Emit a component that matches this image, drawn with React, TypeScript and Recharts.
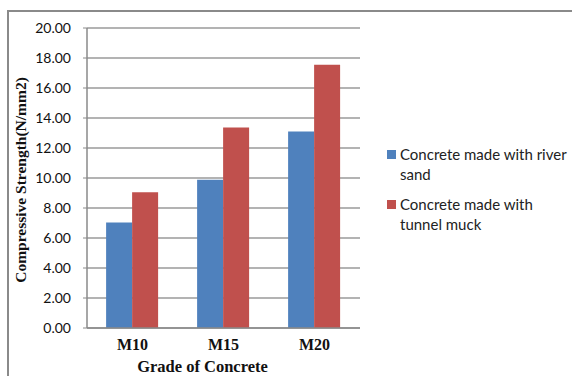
import React from "react";
import { BarChart, Bar, XAxis, YAxis, CartesianGrid } from "recharts";

const grades = ["M10", "M15", "M20"];
const riverSand = [7.03, 9.88, 13.1];
const tunnelMuck = [9.05, 13.37, 17.55];
const yTicks = [0, 2, 4, 6, 8, 10, 12, 14, 16, 18, 20];

const BLUE = "#4F81BD";
const RED = "#C0504D";
const SANS = "Lato, 'Open Sans', sans-serif";
const SERIF = "'Liberation Serif', 'Times New Roman', serif";

const data = grades.map((g, i) => ({ grade: g, river: riverSand[i], muck: tunnelMuck[i] }));

const legendItems = [
  { lines: ["Concrete made with river", "sand"], color: BLUE },
  { lines: ["Concrete made with", "tunnel muck"], color: RED },
];

// legend sits to the right of the plot, outside the svg
function LegendBox() {
  return (
    <div
      style={{
        position: "absolute",
        left: 387,
        top: 144,
        width: 185,
        fontFamily: SANS,
        fontSize: 15,
        color: "#222",
        lineHeight: "20px",
      }}
    >
      {legendItems.map((it) => (
        <div key={it.lines[0]} style={{ display: "flex", alignItems: "flex-start", marginBottom: 10 }}>
          <span style={{ width: 9, height: 9, background: it.color, marginTop: 6, marginRight: 4, flexShrink: 0 }} />
          <span>
            {it.lines.map((l) => (
              <div key={l} style={{ whiteSpace: "nowrap" }}>{l}</div>
            ))}
          </span>
        </div>
      ))}
    </div>
  );
}

const YTitle = (props: any) => {
  const { viewBox } = props;
  const cx = 20;
  const cy = viewBox.y + viewBox.height / 2 + 2;
  return (
    <text
      x={cx}
      y={cy}
      transform={`rotate(-90 ${cx} ${cy})`}
      textAnchor="middle"
      dominantBaseline="central"
      fontFamily={SERIF}
      fontWeight="bold"
      fontSize={15.5}
      fill="#111"
    >
      Compressive Strength(N/mm2)
    </text>
  );
};

export default function App() {
  return (
    <div style={{ position: "fixed", left: 0, top: 0, width: 572, height: 376, background: "#fff" }}>
      {/* frame: only top and left edges show */}
      <div
        style={{
          position: "absolute",
          left: 7,
          top: 10,
          right: 0,
          bottom: 0,
          borderLeft: "2px solid #8a8a8a",
          borderTop: "2px solid #8a8a8a",
        }}
      />
      <div style={{ position: "absolute", left: 0, top: 0 }}>
        <BarChart
          width={572}
          height={376}
          data={data}
          margin={{ top: 28, right: 212, bottom: 0, left: 0 }}
          barCategoryGap="21%"
          barGap={0}
        >
          <CartesianGrid vertical={false} stroke="#9a9a9a" strokeWidth={1.5} />
          <XAxis
            dataKey="grade"
            height={48}
            axisLine={{ stroke: "#8a8a8a", strokeWidth: 1.5 }}
            tickLine={false}
            tickMargin={5}
            interval={0}
            tick={{ fontFamily: SERIF, fontWeight: "bold", fontSize: 16, fill: "#111" }}
            label={{
              value: "Grade of Concrete",
              position: "insideBottom",
              offset: 4,
              dx: -21,
              style: { fontFamily: SERIF, fontWeight: "bold", fontSize: 16.5, fill: "#111" },
            }}
          />
          <YAxis
            width={87}
            domain={[0, 20]}
            ticks={yTicks}
            interval={0}
            tickFormatter={(v: number) => v.toFixed(2)}
            axisLine={{ stroke: "#8a8a8a", strokeWidth: 1.5 }}
            tickLine={{ stroke: "#8a8a8a" }}
            tickSize={4}
            tickMargin={12}
            tick={{ fontFamily: SANS, fontSize: 14, fill: "#111" }}
            label={<YTitle />}
          />
          <Bar dataKey="river" name="Concrete made with river sand" fill={BLUE} isAnimationActive={false} />
          <Bar dataKey="muck" name="Concrete made with tunnel muck" fill={RED} isAnimationActive={false} />
        </BarChart>
      </div>
      <LegendBox />
    </div>
  );
}
